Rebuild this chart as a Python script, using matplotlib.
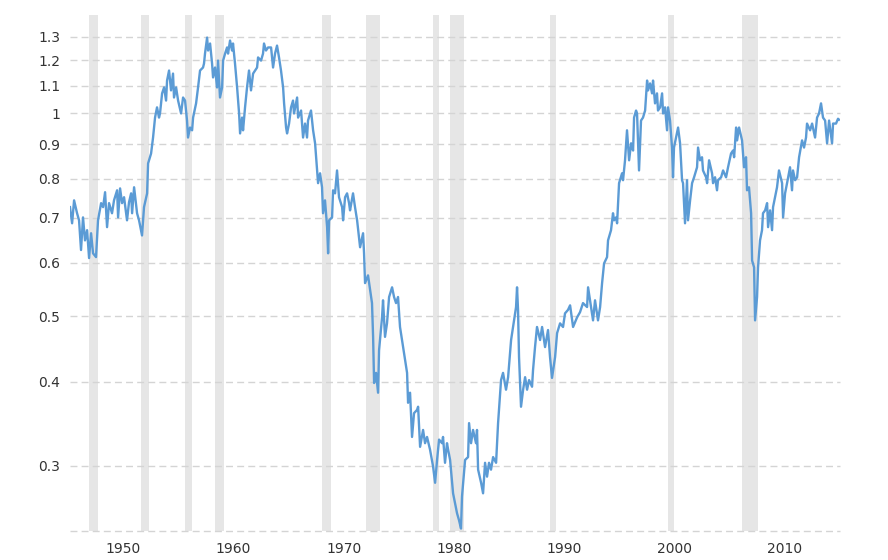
import matplotlib
matplotlib.use("Agg")
import matplotlib.pyplot as plt
from matplotlib.ticker import FixedLocator, FixedFormatter, NullLocator

years = [
    1945.19, 1945.38, 1945.56, 1945.83, 1946.01, 1946.19, 1946.37, 1946.55, 1946.74, 1946.92,
    1947.10, 1947.28, 1947.55, 1947.73, 1948.01, 1948.19, 1948.37, 1948.55, 1948.73, 1949.00,
    1949.18, 1949.46, 1949.55, 1949.73, 1949.91, 1950.09, 1950.36, 1950.54, 1950.73, 1950.82,
    1951.00, 1951.27, 1951.45, 1951.72, 1951.90, 1952.18, 1952.27, 1952.54, 1952.72, 1952.90,
    1953.08, 1953.26, 1953.35, 1953.54, 1953.72, 1953.90, 1953.99, 1954.17, 1954.35, 1954.53,
    1954.62, 1954.81, 1954.99, 1955.26, 1955.44, 1955.62, 1955.80, 1955.89, 1956.07, 1956.26,
    1956.35, 1956.62, 1956.80, 1956.98, 1957.25, 1957.34, 1957.43, 1957.62, 1957.71, 1957.89,
    1958.07, 1958.16, 1958.34, 1958.52, 1958.61, 1958.79, 1958.98, 1959.07, 1959.25, 1959.43,
    1959.52, 1959.70, 1959.88, 1959.97, 1960.15, 1960.34, 1960.52, 1960.61, 1960.79, 1960.88,
    1961.06, 1961.24, 1961.42, 1961.60, 1961.79, 1961.97, 1962.15, 1962.24, 1962.51, 1962.69,
    1962.78, 1962.96, 1963.15, 1963.42, 1963.60, 1963.78, 1963.96, 1964.14, 1964.32, 1964.51,
    1964.60, 1964.78, 1964.87, 1965.05, 1965.23, 1965.41, 1965.50, 1965.78, 1965.87, 1966.14,
    1966.32, 1966.50, 1966.68, 1966.77, 1967.04, 1967.23, 1967.41, 1967.59, 1967.68, 1967.86,
    1968.04, 1968.13, 1968.31, 1968.50, 1968.59, 1968.68, 1968.95, 1969.04, 1969.22, 1969.40,
    1969.58, 1969.86, 1969.95, 1970.13, 1970.31, 1970.49, 1970.58, 1970.85, 1971.03, 1971.22,
    1971.49, 1971.76, 1971.85, 1971.94, 1972.21, 1972.57, 1972.67, 1972.76, 1972.94, 1973.12,
    1973.21, 1973.48, 1973.57, 1973.75, 1973.93, 1974.12, 1974.39, 1974.57, 1974.75, 1974.93,
    1975.11, 1975.39, 1975.75, 1975.84, 1976.02, 1976.20, 1976.38, 1976.65, 1976.75, 1976.93,
    1977.20, 1977.38, 1977.56, 1977.83, 1978.11, 1978.29, 1978.47, 1978.65, 1978.92, 1979.01,
    1979.19, 1979.37, 1979.47, 1979.65, 1979.92, 1980.10, 1980.28, 1980.46, 1980.64, 1980.73,
    1981.01, 1981.28, 1981.37, 1981.55, 1981.73, 1982.00, 1982.09, 1982.19, 1982.46, 1982.64,
    1982.82, 1983.00, 1983.18, 1983.36, 1983.55, 1983.82, 1984.00, 1984.27, 1984.45, 1984.72,
    1984.91, 1985.18, 1985.36, 1985.63, 1985.72, 1985.81, 1985.90, 1986.08, 1986.27, 1986.45,
    1986.63, 1986.81, 1987.08, 1987.17, 1987.35, 1987.53, 1987.81, 1987.99, 1988.26, 1988.53,
    1988.71, 1988.89, 1989.17, 1989.35, 1989.62, 1989.89, 1990.07, 1990.34, 1990.53, 1990.80,
    1991.16, 1991.43, 1991.70, 1992.07, 1992.16, 1992.43, 1992.61, 1992.79, 1993.06, 1993.25,
    1993.43, 1993.61, 1993.88, 1993.97, 1994.24, 1994.42, 1994.52, 1994.70, 1994.79, 1994.97,
    1995.24, 1995.33, 1995.51, 1995.69, 1995.88, 1996.06, 1996.24, 1996.33, 1996.51, 1996.60,
    1996.78, 1996.96, 1997.14, 1997.33, 1997.51, 1997.60, 1997.78, 1997.96, 1998.05, 1998.23,
    1998.41, 1998.50, 1998.69, 1998.87, 1998.96, 1999.14, 1999.32, 1999.41, 1999.59, 1999.77,
    1999.86, 1999.95, 2000.14, 2000.32, 2000.50, 2000.68, 2000.77, 2000.95, 2001.13, 2001.22,
    2001.41, 2001.59, 2001.77, 2002.04, 2002.13, 2002.31, 2002.49, 2002.58, 2002.86, 2002.95,
    2003.13, 2003.40, 2003.49, 2003.67, 2003.85, 2003.94, 2004.22, 2004.40, 2004.67, 2004.85,
    2005.12, 2005.30, 2005.40, 2005.58, 2005.67, 2005.85, 2006.12, 2006.30, 2006.48, 2006.57,
    2006.75, 2006.94, 2007.03, 2007.21, 2007.30, 2007.48, 2007.57, 2007.75, 2007.93, 2008.02,
    2008.21, 2008.39, 2008.48, 2008.66, 2008.84, 2008.93, 2009.11, 2009.29, 2009.47, 2009.75,
    2009.84, 2010.02, 2010.20, 2010.47, 2010.65, 2010.74, 2010.93, 2011.11, 2011.29, 2011.56,
    2011.74, 2011.92, 2012.01, 2012.29, 2012.47, 2012.74, 2012.92, 2013.10, 2013.28, 2013.46,
    2013.65, 2013.83, 2014.01, 2014.28, 2014.37, 2014.64, 2014.82, 2014.91,
]

ratio = [
    0.726, 0.687, 0.743, 0.711, 0.694, 0.627, 0.701, 0.648, 0.671, 0.610,
    0.664, 0.620, 0.612, 0.694, 0.736, 0.726, 0.764, 0.678, 0.736, 0.711,
    0.743, 0.769, 0.701, 0.774, 0.736, 0.751, 0.694, 0.738, 0.761, 0.711,
    0.777, 0.711, 0.694, 0.659, 0.726, 0.761, 0.843, 0.872, 0.921, 0.986,
    1.021, 0.986, 1.000, 1.071, 1.093, 1.045, 1.119, 1.158, 1.082, 1.146,
    1.056, 1.093, 1.045, 1.000, 1.056, 1.045, 0.976, 0.921, 0.953, 0.944,
    0.986, 1.035, 1.093, 1.158, 1.170, 1.186, 1.227, 1.296, 1.240, 1.270,
    1.186, 1.131, 1.170, 1.093, 1.198, 1.056, 1.093, 1.198, 1.227, 1.253,
    1.227, 1.283, 1.240, 1.270, 1.186, 1.093, 1.000, 0.934, 0.986, 0.944,
    1.021, 1.093, 1.158, 1.082, 1.146, 1.158, 1.170, 1.211, 1.198, 1.227,
    1.270, 1.240, 1.253, 1.253, 1.170, 1.227, 1.261, 1.211, 1.158, 1.093,
    1.035, 0.953, 0.934, 0.966, 1.021, 1.045, 1.000, 1.056, 0.986, 1.010,
    0.921, 0.966, 0.921, 0.976, 1.010, 0.944, 0.903, 0.823, 0.788, 0.815,
    0.777, 0.711, 0.743, 0.678, 0.620, 0.694, 0.701, 0.769, 0.761, 0.823,
    0.751, 0.726, 0.694, 0.751, 0.761, 0.736, 0.718, 0.761, 0.726, 0.694,
    0.633, 0.664, 0.620, 0.560, 0.575, 0.523, 0.466, 0.398, 0.412, 0.385,
    0.445, 0.498, 0.528, 0.466, 0.488, 0.534, 0.552, 0.534, 0.523, 0.534,
    0.482, 0.450, 0.412, 0.372, 0.385, 0.331, 0.359, 0.363, 0.367, 0.320,
    0.339, 0.324, 0.331, 0.317, 0.299, 0.283, 0.306, 0.328, 0.324, 0.331,
    0.303, 0.324, 0.317, 0.306, 0.273, 0.264, 0.255, 0.249, 0.242, 0.270,
    0.306, 0.309, 0.347, 0.324, 0.339, 0.324, 0.339, 0.296, 0.283, 0.273,
    0.303, 0.289, 0.303, 0.296, 0.309, 0.303, 0.347, 0.402, 0.412, 0.389,
    0.406, 0.461, 0.482, 0.516, 0.552, 0.511, 0.435, 0.367, 0.389, 0.406,
    0.389, 0.402, 0.393, 0.416, 0.450, 0.482, 0.461, 0.482, 0.450, 0.477,
    0.435, 0.405, 0.435, 0.472, 0.488, 0.482, 0.505, 0.511, 0.519, 0.482,
    0.498, 0.507, 0.523, 0.516, 0.552, 0.516, 0.493, 0.528, 0.493, 0.516,
    0.560, 0.599, 0.612, 0.648, 0.671, 0.711, 0.694, 0.701, 0.687, 0.788,
    0.815, 0.796, 0.852, 0.944, 0.852, 0.903, 0.881, 0.986, 1.010, 1.000,
    0.823, 0.976, 0.986, 1.010, 1.119, 1.082, 1.108, 1.071, 1.119, 1.035,
    1.071, 1.010, 1.021, 1.071, 1.000, 1.021, 0.944, 1.021, 0.976, 0.890,
    0.804, 0.890, 0.921, 0.953, 0.903, 0.796, 0.788, 0.687, 0.796, 0.694,
    0.743, 0.788, 0.804, 0.832, 0.890, 0.852, 0.861, 0.823, 0.804, 0.788,
    0.852, 0.815, 0.788, 0.804, 0.769, 0.796, 0.804, 0.823, 0.804, 0.832,
    0.872, 0.881, 0.861, 0.953, 0.912, 0.953, 0.912, 0.832, 0.861, 0.769,
    0.777, 0.711, 0.605, 0.591, 0.493, 0.534, 0.591, 0.648, 0.671, 0.711,
    0.718, 0.736, 0.678, 0.718, 0.671, 0.726, 0.751, 0.777, 0.823, 0.788,
    0.701, 0.761, 0.788, 0.832, 0.769, 0.823, 0.796, 0.804, 0.861, 0.912,
    0.890, 0.921, 0.966, 0.944, 0.966, 0.921, 0.986, 1.000, 1.035, 0.986,
    0.976, 0.903, 0.976, 0.903, 0.966, 0.966, 0.982, 0.979,
]

recession_start = [1946.92, 1951.63, 1955.62, 1958.38, 1968.04, 1972.03, 1978.11, 1979.65, 1988.71, 1999.41, 2006.12]
recession_end   = [1947.73, 1952.36, 1956.26, 1959.16, 1968.86, 1973.30, 1978.65, 1980.95, 1989.26, 1999.95, 2007.57]

y_ticks = [0.3, 0.4, 0.5, 0.6, 0.7, 0.8, 0.9, 1.0, 1.1, 1.2, 1.3]
y_tick_labels = ["0.3", "0.4", "0.5", "0.6", "0.7", "0.8", "0.9", "1", "1.1", "1.2", "1.3"]
x_ticks = [1950, 1960, 1970, 1980, 1990, 2000, 2010]
x_tick_labels = ["1950", "1960", "1970", "1980", "1990", "2000", "2010"]

fig = plt.figure(figsize=(8.88, 5.6), dpi=100)
ax = fig.add_axes([70 / 888, 29 / 560, 770 / 888, 516 / 560])

y_min, y_max = 0.24, 1.40
ax.set_yscale("log")
ax.set_ylim(y_min, y_max)
ax.set_xlim(1945.19, 2015.0)

for s, e in zip(recession_start, recession_end):
    ax.axvspan(s, e, color="#e6e6e6", lw=0, zorder=0)

for t in y_ticks + [y_min]:
    ax.axhline(t, color="#d4d4d4", lw=1.0, ls=(0, (5, 3)), zorder=1, clip_on=False)

ax.plot(years, ratio, color="#5b9bd5", lw=1.7, zorder=3, solid_joinstyle="round")

ax.yaxis.set_major_locator(FixedLocator(y_ticks))
ax.yaxis.set_major_formatter(FixedFormatter(y_tick_labels))
ax.yaxis.set_minor_locator(NullLocator())
ax.xaxis.set_major_locator(FixedLocator(x_ticks))
ax.xaxis.set_major_formatter(FixedFormatter(x_tick_labels))
ax.xaxis.set_minor_locator(NullLocator())

ax.tick_params(axis="both", length=0, labelsize=10, colors="#333333")
ax.tick_params(axis="y", pad=7)
ax.tick_params(axis="x", pad=8)
for sp in ax.spines.values():
    sp.set_visible(False)

fig.savefig("out.png", dpi=100)
